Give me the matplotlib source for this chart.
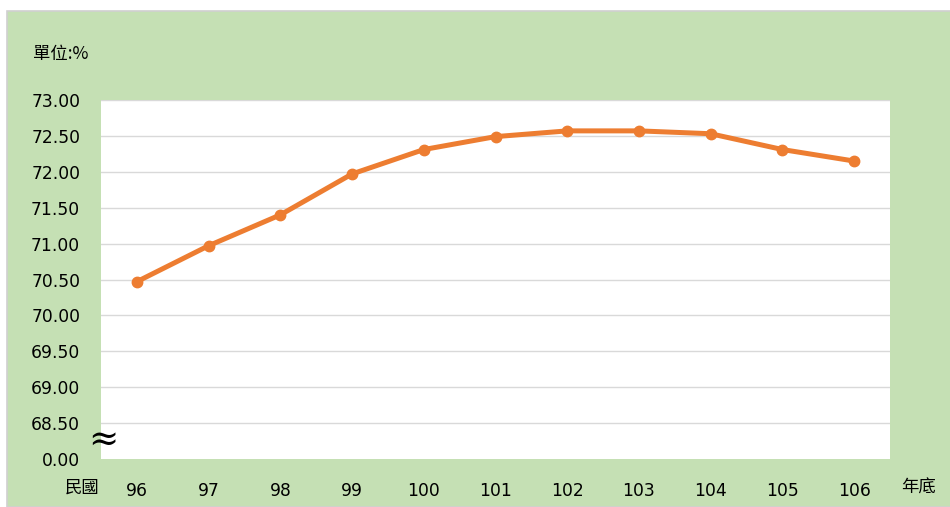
import matplotlib
matplotlib.use("Agg")
import matplotlib.pyplot as plt
from matplotlib.patches import Rectangle

years = ["96", "97", "98", "99", "100", "101", "102", "103", "104", "105", "106"]
values = [70.47, 70.97, 71.40, 71.97, 72.31, 72.49, 72.57, 72.57, 72.53, 72.31, 72.15]
ytick_vals = [68.0, 68.5, 69.0, 69.5, 70.0, 70.5, 71.0, 71.5, 72.0, 72.5, 73.0]
ytick_labels = ["0.00", "68.50", "69.00", "69.50", "70.00", "70.50", "71.00", "71.50", "72.00", "72.50", "73.00"]

W, H = 950, 507
fig = plt.figure(figsize=(W / 100, H / 100), dpi=100)
fig.patch.set_facecolor("white")

# green chart area background with light grey border
bg = Rectangle((7 / W, 0), 1 - 7 / W + 0.01, 1 - 11 / H, transform=fig.transFigure,
               facecolor="#C5E0B4", edgecolor="#D0D0D0", linewidth=1.2, zorder=-5)
fig.add_artist(bg)

ax = fig.add_axes([101 / W, (H - 459) / H, (890 - 101) / W, (459 - 100) / H])
ax.set_zorder(1)
ax.set_facecolor("white")
x = list(range(len(years)))
ax.plot(x, values, color="#ED7D31", linewidth=3.6, marker="o", markersize=7.5,
        solid_capstyle="round", zorder=3, clip_on=False)

ax.set_xlim(-0.5, len(years) - 0.5)
ax.set_ylim(68.0, 73.0)
ax.set_yticks(ytick_vals)
ax.set_yticklabels(ytick_labels)
ax.set_xticks(x)
ax.set_xticklabels(years)
for v in ytick_vals[1:]:
    ax.axhline(v, color="#D9D9D9", linewidth=1.0, zorder=1)
for s in ax.spines.values():
    s.set_visible(False)
ax.tick_params(axis="both", length=0, labelsize=12.3, colors="black")
ax.tick_params(axis="y", pad=15)
ax.tick_params(axis="x", pad=16.5)
for lab in ax.get_xticklabels() + ax.get_yticklabels():
    lab.set_fontfamily(["DejaVu Sans"])

cjk = ["Noto Sans CJK TC", "DejaVu Sans"]
fig.text(33 / W, 1 - 54 / H, "單位:%", fontsize=12.5, family=cjk, va="center", ha="left", zorder=5)
fig.text(82 / W, 1 - 488 / H, "民國", fontsize=12.5, family=cjk, va="center", ha="center", zorder=5)
fig.text(919 / W, 1 - 488 / H, "年底", fontsize=12.5, family=cjk, va="center", ha="center", zorder=5)
fig.text(103 / W, 1 - 440 / H, "≈", fontsize=26, family=["DejaVu Serif"], va="center", ha="center",
         color="black", zorder=5)

fig.savefig("out.png", dpi=100, facecolor=fig.get_facecolor())
